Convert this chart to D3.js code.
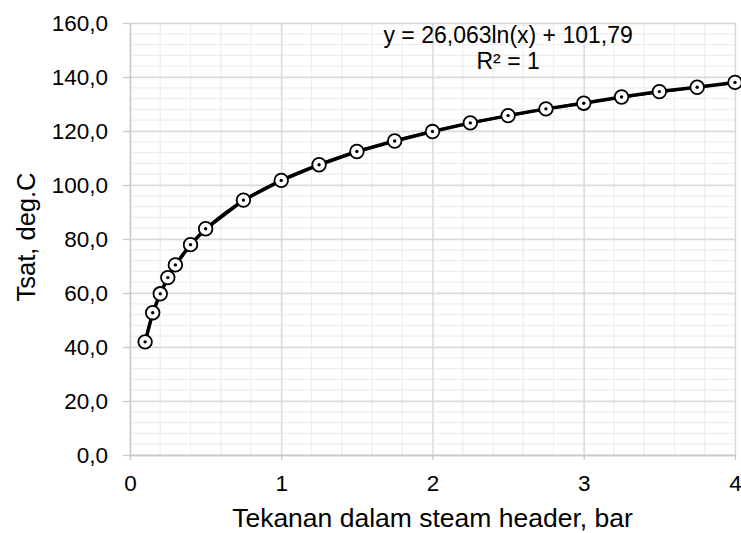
<!DOCTYPE html>
<html lang="en">
<head>
    <meta charset="utf-8">
    <script src="https://cdn.jsdelivr.net/npm/d3@7"></script>
    <style>
        body { margin: 0; background: #fff; overflow: hidden; }
        text { font-family: "Liberation Sans", Arial, sans-serif; fill: #000; }
    </style>
</head>
<body>
<div id="my_dataviz"></div>

<script>
    // pressure (bar) and saturation temperature (deg.C)
    var pressure = [0.1, 0.15, 0.2, 0.25, 0.3, 0.4, 0.5, 0.75, 1, 1.25, 1.5, 1.75, 2,
                    2.25, 2.5, 2.75, 3, 3.25, 3.5, 3.75, 4];
    var tsat = [41.9, 52.7, 59.7, 65.7, 70.4, 77.9, 83.8, 94.4, 101.7, 107.5, 112.4, 116.3, 119.8,
                123.0, 125.7, 128.2, 130.3, 132.6, 134.6, 136.2, 138.0];

    // log trendline shown on the chart: y = a ln(x) + b
    var trendA = 26.063, trendB = 101.79;
    var trendLabel = ["y = 26,063ln(x) + 101,79", "R² = 1"];

    var xTicks = [0, 1, 2, 3, 4];
    var yTicks = [0, 20, 40, 60, 80, 100, 120, 140, 160];

    var margin = {top: 23, right: 6, bottom: 78, left: 130},
        width = 741 - margin.left - margin.right,
        height = 533 - margin.top - margin.bottom;

    var svg = d3.select("#my_dataviz")
        .append("svg")
        .attr("width", 741)
        .attr("height", 533)
        .style("display", "block")
        .append("g")
        .attr("transform", "translate(" + margin.left + "," + margin.top + ")");

    var x = d3.scaleLinear().domain([0, 4]).range([0, width]);
    var y = d3.scaleLinear().domain([0, 160]).range([height, 0]);

    var comma = d3.formatLocale({decimal: ",", thousands: ".", grouping: [3], currency: ["", ""]});

    // minor gridlines
    svg.append("g")
        .selectAll("line")
        .data(d3.range(0, 4.001, 0.2))
        .enter().append("line")
        .attr("x1", function (d) { return x(d); })
        .attr("x2", function (d) { return x(d); })
        .attr("y1", 0).attr("y2", height)
        .style("stroke", "#eeeeee").style("stroke-width", 1.2);

    svg.append("g")
        .selectAll("line")
        .data(d3.range(0, 160.001, 4))
        .enter().append("line")
        .attr("y1", function (d) { return y(d); })
        .attr("y2", function (d) { return y(d); })
        .attr("x1", 0).attr("x2", width)
        .style("stroke", "#eeeeee").style("stroke-width", 1.2);

    // major gridlines
    svg.append("g")
        .call(d3.axisLeft(y).tickValues(yTicks).tickSize(-width).tickFormat(""))
        .call(function (g) { g.select(".domain").remove(); })
        .selectAll("line").style("stroke", "#d9d9d9").style("stroke-width", 1.3);

    svg.append("g")
        .call(d3.axisBottom(x).tickValues(xTicks).tickSize(height).tickFormat(""))
        .call(function (g) { g.select(".domain").remove(); })
        .selectAll("line").style("stroke", "#d9d9d9").style("stroke-width", 1.3);

    // axes
    var yAxis = svg.append("g")
        .call(d3.axisLeft(y).tickValues(yTicks).tickSizeInner(7).tickSizeOuter(0).tickPadding(15)
            .tickFormat(comma.format(".1f")));
    yAxis.select(".domain").style("stroke", "#c8c8c8").style("stroke-width", 1.3);
    yAxis.selectAll(".tick line").style("stroke", "#c8c8c8").style("stroke-width", 1.3);
    yAxis.selectAll("text").style("font-size", "22.5px").attr("fill", "#000");

    var xAxis = svg.append("g")
        .attr("transform", "translate(0," + height + ")")
        .call(d3.axisBottom(x).tickValues(xTicks).tickSizeInner(5).tickSizeOuter(0).tickPadding(15)
            .tickFormat(d3.format("d")));
    xAxis.select(".domain").style("stroke", "#c8c8c8").style("stroke-width", 1.3);
    xAxis.selectAll(".tick line").style("stroke", "#c8c8c8").style("stroke-width", 1.3);
    xAxis.selectAll("text").style("font-size", "22.5px").attr("fill", "#000");

    // axis titles
    svg.append("text")
        .attr("x", width / 2)
        .attr("y", height + 72)
        .attr("text-anchor", "middle")
        .style("font-size", "26.5px")
        .text("Tekanan dalam steam header, bar");

    svg.append("text")
        .attr("transform", "translate(" + (-95) + "," + (y(80) - 2) + ") rotate(-90)")
        .attr("text-anchor", "middle")
        .style("font-size", "25.5px")
        .text("Tsat, deg.C");

    // trendline
    var trendX = d3.range(0.1, 4.0001, 0.02);
    svg.append("path")
        .datum(trendX)
        .attr("fill", "none")
        .attr("stroke", "#000")
        .attr("stroke-width", 2.5)
        .attr("d", d3.line()
            .x(function (d) { return x(d); })
            .y(function (d) { return y(trendA * Math.log(d) + trendB); }));

    // series line
    var points = pressure.map(function (p, i) { return {x: p, y: tsat[i]}; });
    svg.append("path")
        .datum(points)
        .attr("fill", "none")
        .attr("stroke", "#000")
        .attr("stroke-width", 3.5)
        .attr("d", d3.line()
            .x(function (d) { return x(d.x); })
            .y(function (d) { return y(d.y); }));

    // markers
    var mk = svg.selectAll(".mk")
        .data(points)
        .enter().append("g")
        .attr("class", "mk")
        .attr("transform", function (d) {
            return "translate(" + x(d.x) + "," + y(d.y) + ")";
        });
    mk.append("circle").attr("r", 6.8)
        .style("fill", "#fff").style("stroke", "#000").style("stroke-width", 1.8);
    mk.append("circle").attr("r", 1.7).style("fill", "#000");

    // trendline label
    svg.append("text")
        .attr("x", x(2.5))
        .attr("y", 20)
        .attr("text-anchor", "middle")
        .style("font-size", "23px")
        .text(trendLabel[0]);
    svg.append("text")
        .attr("x", x(2.5))
        .attr("y", 46)
        .attr("text-anchor", "middle")
        .style("font-size", "23px")
        .text(trendLabel[1]);
</script>
</body>
</html>
